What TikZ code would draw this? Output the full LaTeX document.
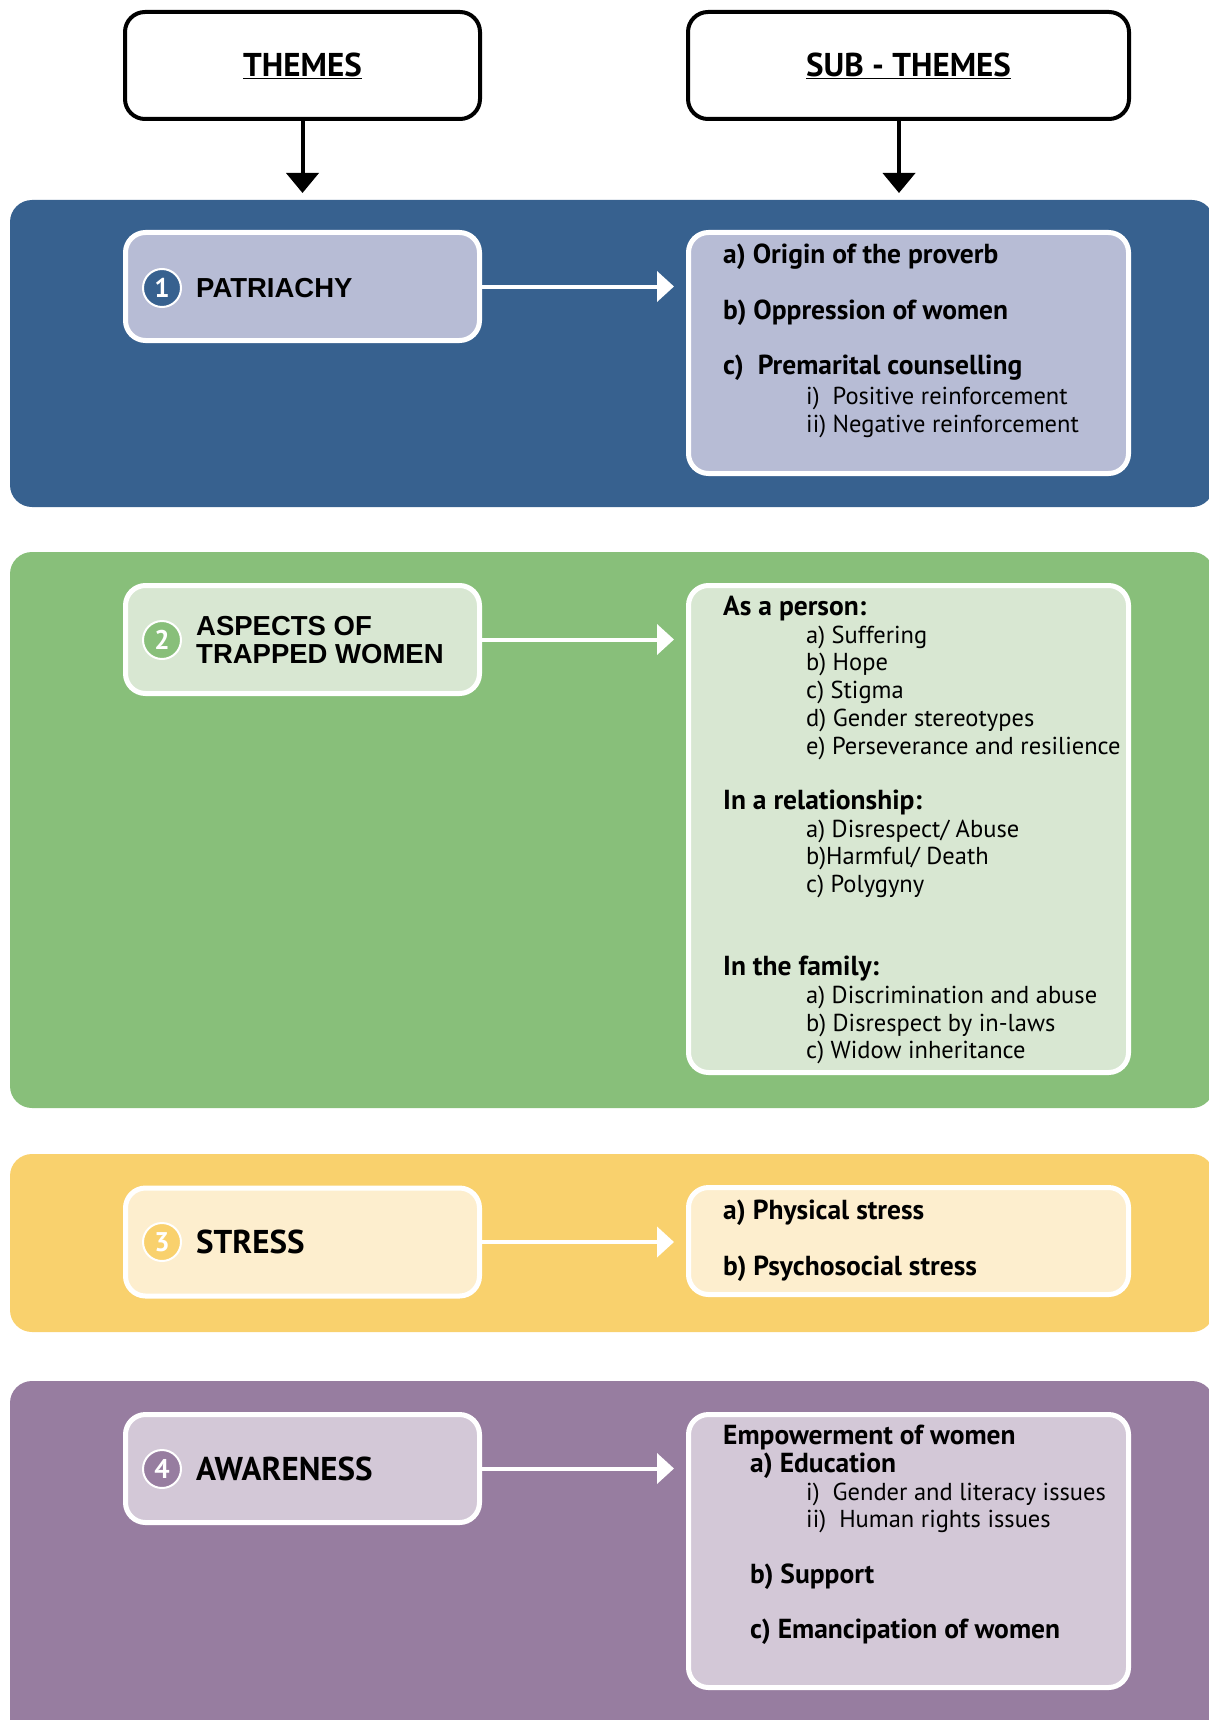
\documentclass[tikz,border=0pt]{standalone}
\usepackage{fontspec}
\setmainfont{PT Sans}
\newfontfamily\arialfont{Liberation Sans}
\usetikzlibrary{positioning,arrows.meta}
\definecolor{bandblue}{HTML}{37618F}
\definecolor{lightblue}{HTML}{B7BCD5}
\definecolor{bandgreen}{HTML}{88BF7A}
\definecolor{lightgreen}{HTML}{D8E7D2}
\definecolor{bandyellow}{HTML}{F9D16D}
\definecolor{lightyellow}{HTML}{FDEECE}
\definecolor{bandpurple}{HTML}{977DA0}
\definecolor{lightpurple}{HTML}{D3C8D7}
\newcommand{\subind}{\hspace*{83pt}}
\newcommand{\midind}{\hspace*{27pt}}
\newcommand{\hd}[1]{{\fontsize{27.5}{27.7}\selectfont\bfseries #1}}

\begin{document}
\begin{tikzpicture}[x=1pt,y=-1pt]
 \tikzset{head/.style={draw=black,line width=4pt,rounded corners=20pt,fill=white,minimum height=107pt,font=\bfseries\fontsize{33}{36}\selectfont},
  themebox/.style={draw=white,line width=5pt,rounded corners=20pt,fill=#1,minimum width=354pt,minimum height=108pt},
  subbox/.style={draw=white,line width=5pt,rounded corners=20pt,fill=#1,minimum width=440pt},
  num/.style={circle,draw=white,line width=2pt,fill=#1,text=white,minimum size=38pt,inner sep=0pt,font=\bfseries\fontsize{27}{27}\selectfont},
  theme/.style={anchor=west,inner sep=0pt,align=left,font=\arialfont\bfseries\fontsize{27.5}{27.5}\selectfont},
  themeb/.style={anchor=west,inner sep=0pt,font=\bfseries\fontsize{33}{33}\selectfont},
  subtext/.style={anchor=north west,inner sep=0pt,align=left,font=\fontsize{24.5}{27.7}\selectfont},
  harrow/.style={draw=white,line width=4pt,shorten >=12pt,-{Triangle[length=17pt,width=30pt]}},
  darrow/.style={draw=black,line width=4pt,-{Triangle[length=20pt,width=32pt]}}}
 \useasboundingbox (0,0) rectangle (1208,1720);

 % headers
 \node[head,minimum width=355pt] (h1) at (302.5,65.5) {\underline{THEMES}};
 \node[head,minimum width=441pt] (h2) at (908.5,65.5) {\underline{SUB - THEMES}};
 \coordinate (d1) at (302.5,193);
 \coordinate (d2) at (899,193);
 \draw[darrow] (h1) -- (d1);
 \draw[darrow] (h2.south -| d2) -- (d2);

 % bands
 \fill[bandblue,rounded corners=22pt] (10,200) rectangle (1214,507);
 \fill[bandgreen,rounded corners=22pt] (10,552) rectangle (1214,1108);
 \fill[bandyellow,rounded corners=22pt] (10,1154) rectangle (1214,1332);
 \fill[bandpurple,rounded corners=22pt] (10,1381) rectangle (1214,1750);

 % theme 1
 \node[themebox=lightblue] (t1) at (302.5,286.5) {};
 \node[num=bandblue] (c1) at (162,288) {1};
 \node[theme] (l1) at (196,288) {PATRIACHY};
 \node[subbox=lightblue,minimum height=241pt] (s1) at (908.5,353) {};
 \node[subtext] (x1) at (723,244) {\hd{a) Origin of the proverb}\\[27.7pt]
  \hd{b) Oppression of women}\\[27.7pt]
  \hd{c)\ \ Premarital counselling}\\[2pt]
  \subind i)\ \ Positive reinforcement\\
  \subind ii) Negative reinforcement};
 \draw[harrow] (t1.east) -- (t1.east -| s1.west);

 % theme 2
 \node[themebox=lightgreen] (t2) at (302.5,639.5) {};
 \node[num=bandgreen] (c2) at (162,640) {2};
 \node[theme] (l2) at (196,640) {ASPECTS OF\\TRAPPED WOMEN};
 \node[subbox=lightgreen,minimum height=487pt] (s2) at (908.5,829) {};
 \node[subtext] (x2) at (723,596) {\hd{As a person:}\\
  \subind a) Suffering\\
  \subind b) Hope\\
  \subind c) Stigma\\
  \subind d) Gender stereotypes\\
  \subind e) Perseverance and resilience\\[27.7pt]
  \hd{In a relationship:}\\
  \subind a) Disrespect/ Abuse\\
  \subind b)Harmful/ Death\\
  \subind c) Polygyny\\[55.4pt]
  \hd{In the family:}\\
  \subind a) Discrimination and abuse\\
  \subind b) Disrespect by in-laws\\
  \subind c) Widow inheritance};
 \draw[harrow] (t2.east) -- (t2.east -| s2.west);

 % theme 3
 \node[themebox=lightyellow] (t3) at (302.5,1242) {};
 \node[num=bandyellow] (c3) at (162,1242) {3};
 \node[themeb] (l3) at (196,1242) {STRESS};
 \node[subbox=lightyellow,minimum height=107pt] (s3) at (908.5,1241) {};
 \node[subtext] (x3) at (723,1200) {\hd{a)\ Physical stress}\\[27.7pt]
  \hd{b) Psychosocial stress}};
 \draw[harrow] (t3.east) -- (t3.east -| s3.west);

 % theme 4
 \node[themebox=lightpurple] (t4) at (302.5,1468.5) {};
 \node[num=bandpurple] (c4) at (162,1469) {4};
 \node[themeb] (l4) at (196,1469) {AWARENESS};
 \node[subbox=lightpurple,minimum height=273pt] (s4) at (908.5,1551) {};
 \node[subtext] (x4) at (723,1425) {\hd{Empowerment of women}\\
  \midind\hd{a) Education}\\
  \subind i)\ \ Gender and literacy issues\\
  \subind ii)\ \ Human rights issues\\[27.7pt]
  \midind\hd{b) Support}\\[27.7pt]
  \midind\hd{c) Emancipation of women}};
 \draw[harrow] (t4.east) -- (t4.east -| s4.west);
\end{tikzpicture}
\end{document}
